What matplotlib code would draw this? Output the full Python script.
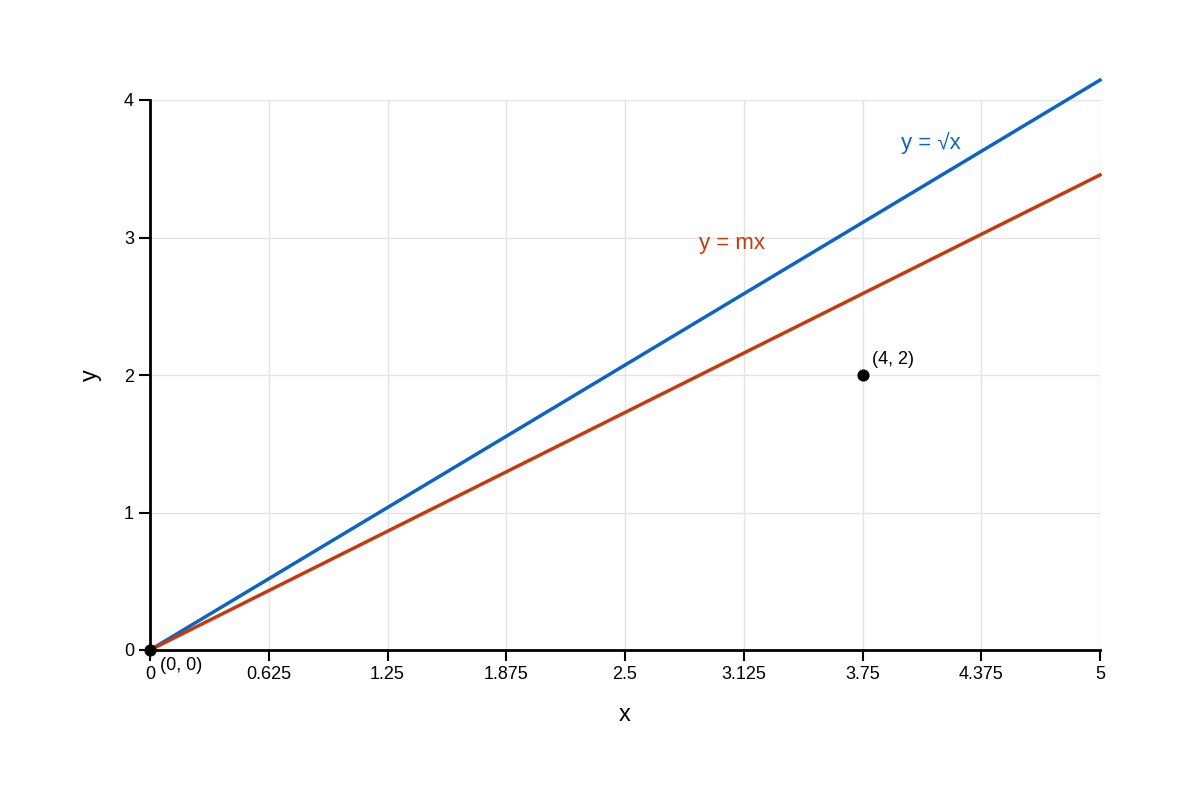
from matplotlib import pyplot as plt

plt.rcParams['font.family'] = ['Liberation Sans', 'DejaVu Sans']

# line end points
xs = [0, 5]
y_sqrt = [0, 4.145]
y_mx = [0, 3.455]

# marked points
pt_x = [0, 3.75]
pt_y = [0, 2]
pt_labels = ["(0, 0)", "(4, 2)"]

xticks = [0, 0.625, 1.25, 1.875, 2.5, 3.125, 3.75, 4.375, 5]
xticklabels = ["0", "0.625", "1.25", "1.875", "2.5", "3.125", "3.75", "4.375", "5"]
yticks = [0, 1, 2, 3, 4]

blue = '#0a66c2'
red = '#c43c0c'

fig = plt.figure(figsize=(12, 8), dpi=100)
ax = fig.add_axes([0.125, 0.1875, 0.7917, 0.6875])

ax.plot(xs, y_sqrt, color=blue, lw=2.5, clip_on=False, zorder=3)
ax.plot(xs, y_mx, color=red, lw=2.5, clip_on=False, zorder=3)
ax.scatter(pt_x, pt_y, s=60, color='black', zorder=5, clip_on=False)

ax.annotate(pt_labels[0], (pt_x[0], pt_y[0]), xytext=(7, -11), textcoords='offset points',
            fontsize=13, va='center', ha='left')
ax.annotate(pt_labels[1], (pt_x[1], pt_y[1]), xytext=(7, 11), textcoords='offset points',
            fontsize=13, va='center', ha='left')

ax.text(3.95, 3.69, "y = √x", color=blue, fontsize=16, va='center', ha='left')
ax.text(2.89, 2.96, "y = mx", color=red, fontsize=16, va='center', ha='left')

ax.set_xlim(0, 5)
ax.set_ylim(0, 4)
ax.set_xticks(xticks)
ax.set_xticklabels(xticklabels)
ax.set_yticks(yticks)
ax.tick_params(labelsize=13, length=8, width=1.5, direction='out')
ax.grid(True, color='#e3e3e3', lw=1)
ax.set_axisbelow(True)

for s in ['top', 'right']:
    ax.spines[s].set_visible(False)
for s in ['left', 'bottom']:
    ax.spines[s].set_linewidth(2)

ax.set_xlabel("x", fontsize=17, labelpad=15)
ax.set_ylabel("y", fontsize=17, labelpad=16)

plt.savefig("out.png", dpi=100)
